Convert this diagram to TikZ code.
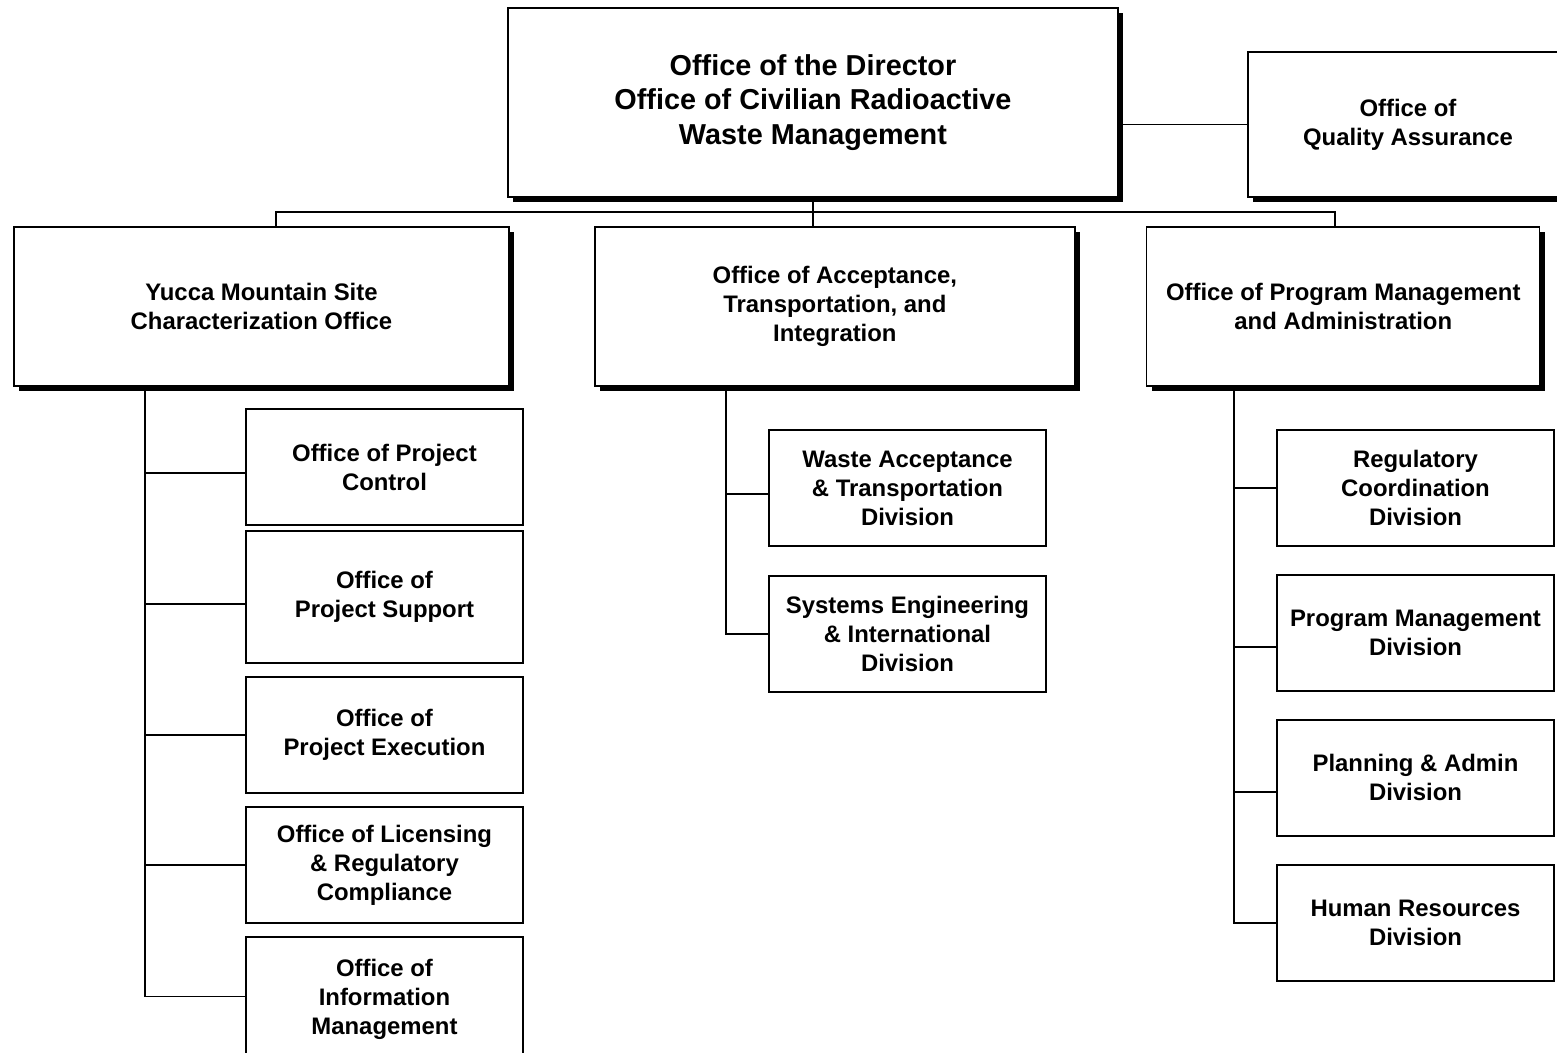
\documentclass[tikz,border=0pt]{standalone}
\usepackage{fontspec}
\setmainfont{Liberation Sans}
\usepackage{tikz}
\usetikzlibrary{positioning, shadows}

\begin{document}
\begin{tikzpicture}[
	x=0.02cm, y=-0.02cm,
	% Picture Styling
	headbox/.style={draw, rectangle, line width=0.8pt, fill=white, anchor=north west, align=center, inner sep=2pt, outer sep=0pt, font=\bfseries\fontsize{16.4}{19.8}\selectfont, drop shadow={shadow xshift=0.1cm, shadow yshift=-0.1cm, fill=black, opacity=1}},
	office/.style={headbox, font=\bfseries\fontsize{13.6}{16.5}\selectfont},
	unit/.style={draw, rectangle, line width=1.1pt, fill=white, anchor=north west, align=center, inner sep=2pt, outer sep=0pt, minimum width=5.54cm, minimum height=2.32cm, font=\bfseries\fontsize{13.6}{16.5}\selectfont},
	link/.style={draw=black, line width=0.9pt}
]
	\path[use as bounding box, fill=white] (0,0) rectangle (1557,1052);
	% Top Level
	\node[headbox, minimum width=12.2cm, minimum height=3.78cm] (director) at (508,8) {Office of the Director\\Office of Civilian Radioactive\\Waste Management};
	\node[office, minimum width=6.4cm, minimum height=2.9cm] (qa) at (1248,52) {Office of\\Quality Assurance};
	% Second Level
	\node[office, minimum width=9.9cm, minimum height=3.18cm] (yucca) at (14,227) {Yucca Mountain Site\\Characterization Office};
	\node[office, minimum width=9.6cm, minimum height=3.18cm, right=1.72cm of yucca] (accept) {Office of Acceptance,\\Transportation, and\\Integration};
	\node[office, minimum width=7.86cm, minimum height=3.18cm, right=1.44cm of accept] (pm) {Office of Program Management\\and Administration};
	% Yucca Mountain Offices
	\node[unit] (pc) at (246,409) {Office of Project\\Control};
	\node[unit, minimum height=2.64cm, below=0.12cm of pc] (ps) {Office of\\Project Support};
	\node[unit, below=0.28cm of ps] (pe) {Office of\\Project Execution};
	\node[unit, below=0.28cm of pe] (lic) {Office of Licensing\\\& Regulatory\\Compliance};
	\node[unit, minimum height=2.5cm, below=0.28cm of lic] (info) {Office of\\Information\\Management};
	% Acceptance Divisions
	\node[unit] (waste) at (769,430) {Waste Acceptance\\\& Transportation\\Division};
	\node[unit, below=0.6cm of waste] (sys) {Systems Engineering\\\& International\\Division};
	% Program Management Divisions
	\node[unit] (reg) at (1277,430) {Regulatory\\Coordination\\Division};
	\node[unit, below=0.58cm of reg] (pmd) {Program Management\\Division};
	\node[unit, below=0.58cm of pmd] (plan) {Planning \& Admin\\Division};
	\node[unit, below=0.58cm of plan] (hr) {Human Resources\\Division};
	% Connectors
	\coordinate (busL) at (276,212);
	\coordinate (busR) at (1335,212);
	\coordinate (ytrunk) at (145,0);
	\coordinate (atrunk) at (726,0);
	\coordinate (ptrunk) at (1234,0);
	\draw[link] (qa.west) -- (qa.west -| director.east);
	\draw[link] (director.south) -- (director.south |- accept.north);
	\draw[link] (busL |- yucca.north) -- (busL) -- (busR) -- (busR |- pm.north);
	\draw[link] (yucca.south -| ytrunk) |- ([yshift=-0.12cm]pc.west);
	\draw[link] (yucca.south -| ytrunk) |- ([yshift=-0.14cm]ps.west);
	\draw[link] (yucca.south -| ytrunk) |- (pe.west);
	\draw[link] (yucca.south -| ytrunk) |- (lic.west);
	\draw[link] (yucca.south -| ytrunk) |- ([yshift=0.06cm]info.west);
	\draw[link] (accept.south -| atrunk) |- ([yshift=-0.12cm]waste.west);
	\draw[link] (accept.south -| atrunk) |- (sys.west);
	\draw[link] (pm.south -| ptrunk) |- (reg.west);
	\draw[link] (pm.south -| ptrunk) |- ([yshift=-0.28cm]pmd.west);
	\draw[link] (pm.south -| ptrunk) |- ([yshift=-0.28cm]plan.west);
	\draw[link] (pm.south -| ptrunk) |- (hr.west);
\end{tikzpicture}
\end{document}
